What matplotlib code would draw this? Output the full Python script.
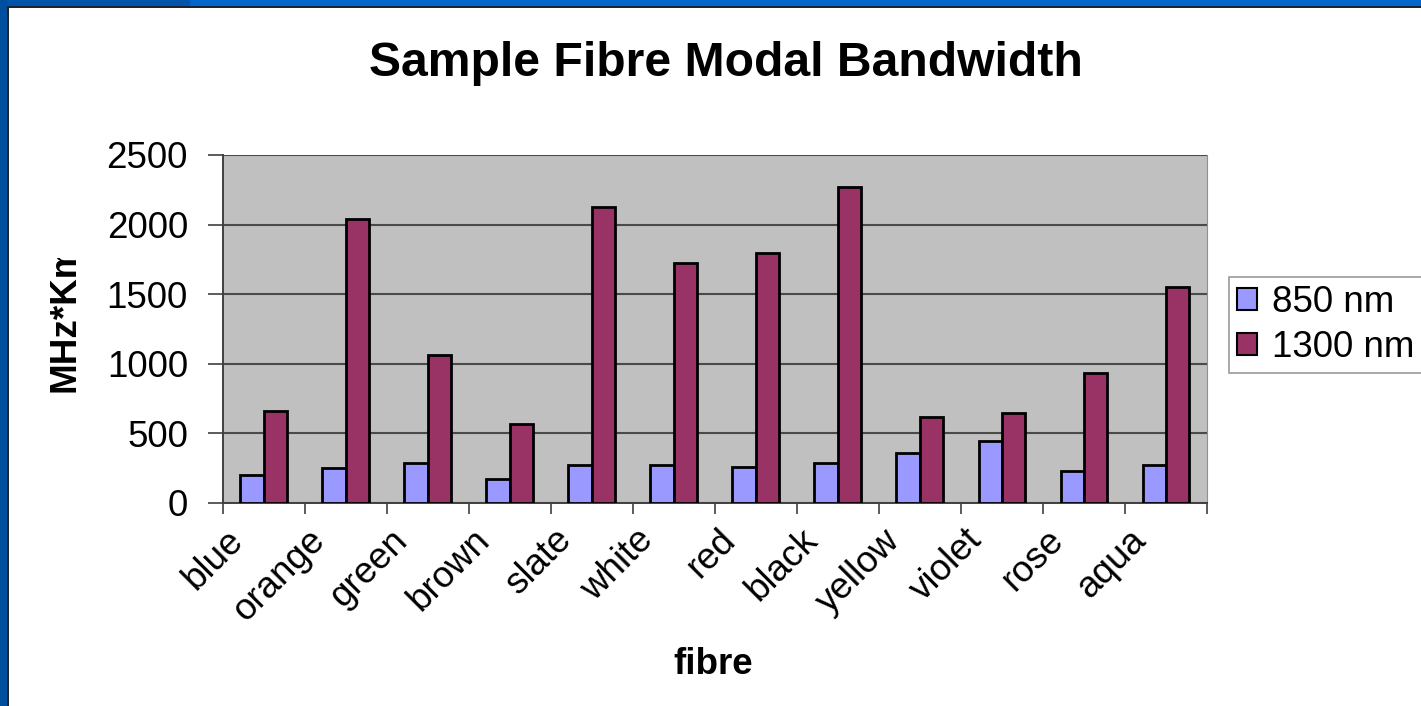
import numpy as np
import matplotlib
matplotlib.use("Agg")
import matplotlib.pyplot as plt
from matplotlib.patches import Rectangle, Patch
from matplotlib.transforms import Bbox, TransformedBbox, ScaledTranslation

fibres = ["blue", "orange", "green", "brown", "slate", "white",
          "red", "black", "yellow", "violet", "rose", "aqua"]
bw_850 = [200, 255, 290, 170, 275, 275, 260, 287, 360, 448, 232, 273]
bw_1300 = [660, 2040, 1065, 570, 2125, 1722, 1794, 2268, 620, 650, 933, 1554]
series_names = ["850 nm", "1300 nm"]
yticks = [0, 500, 1000, 1500, 2000, 2500]

plt.rcParams['font.family'] = ['Liberation Sans', 'DejaVu Sans']
fs = 26.5

W, H = 1421, 706
fig = plt.figure(figsize=(W / 100, H / 100), dpi=100)
fig.patch.set_facecolor("white")

# slide frame
fig.patches.append(Rectangle((0, 1 - 6 / H), 1, 6 / H, transform=fig.transFigure,
                             facecolor="#0066cc", edgecolor="none", zorder=0))
fig.patches.append(Rectangle((0, 1 - 6 / H), 190 / W, 6 / H, transform=fig.transFigure,
                             facecolor="#0055aa", edgecolor="none", zorder=0))
fig.patches.append(Rectangle((0, 0), 7 / W, 1, transform=fig.transFigure,
                             facecolor="#004e9e", edgecolor="none", zorder=0))
fig.patches.append(Rectangle((7 / W, 1 - 8 / H), 1, 2 / H, transform=fig.transFigure,
                             facecolor="#1c2430", edgecolor="none", zorder=0))
fig.patches.append(Rectangle((7 / W, 0), 1.5 / W, 1 - 6 / H, transform=fig.transFigure,
                             facecolor="#1c2430", edgecolor="none", zorder=0))

ax = fig.add_axes([222.7 / W, 1 - 503 / H, (1207 - 222.7) / W, (503 - 155) / H])
ax.set_facecolor("#c0c0c0")

x = np.arange(len(fibres))
w = 1 / 3.5
ax.bar(x - w / 2, bw_850, w, color="#9999ff", edgecolor="black", linewidth=2.0, zorder=3)
ax.bar(x + w / 2, bw_1300, w, color="#993366", edgecolor="black", linewidth=2.0, zorder=3)

ax.set_xlim(-0.5, len(fibres) - 0.5)
ax.set_ylim(0, 2500)
ax.set_yticks(yticks)
ax.set_yticklabels([str(v) for v in yticks], fontsize=fs)
ax.yaxis.grid(True, color="#4a4a4a", linewidth=1.5, zorder=1)
ax.set_axisbelow(True)
ax.tick_params(axis="y", length=11, width=1.2, color="#404040", pad=14)

ax.set_xticks(x)
ax.set_xticklabels(fibres, fontsize=fs, rotation=45, ha="right", va="center",
                   rotation_mode="anchor")
ax.tick_params(axis="x", which="major", length=0, pad=23)
ax.set_xticks(np.arange(len(fibres) + 1) - 0.5, minor=True)
ax.tick_params(axis="x", which="minor", length=8, width=1.2, color="#404040")
off = ScaledTranslation(-25.6 / 100, 0, fig.dpi_scale_trans)
for lab in ax.get_xticklabels():
    lab.set_transform(lab.get_transform() + off)

ax.spines["top"].set_visible(False)
ax.spines["right"].set_color("#909090")
ax.spines["left"].set_color("#404040")
ax.spines["bottom"].set_color("#404040")
ax.spines["left"].set_linewidth(1.4)
ax.spines["bottom"].set_linewidth(1.4)

fig.text(726 / W, 1 - 63 / H, "Sample Fibre Modal Bandwidth", fontsize=34.7,
         fontweight="bold", ha="center", va="center")
fig.text(713 / W, 1 - 664 / H, "fibre", fontsize=fs, fontweight="bold",
         ha="center", va="center")

yl = fig.text(65 / W, 1 - 392 / H, "MHz*Km", fontsize=fs, fontweight="bold",
              rotation=90, ha="center", va="bottom")
yl.set_clip_box(TransformedBbox(Bbox([[0, 0], [1, 1 - 258 / H]]), fig.transFigure))
yl.set_clip_on(True)

handles = [Patch(facecolor="#9999ff", edgecolor="black", linewidth=1.5),
           Patch(facecolor="#993366", edgecolor="black", linewidth=1.5)]
leg = fig.legend(handles, series_names, loc="upper left",
                 bbox_to_anchor=(1229 / W, 1 - 276.7 / H), fontsize=fs,
                 frameon=True, fancybox=False, handlelength=0.55, handleheight=0.55,
                 handletextpad=0.4, borderpad=0.22, labelspacing=0.28, borderaxespad=0)
leg.get_frame().set_edgecolor("#808080")
leg.get_frame().set_linewidth(1.2)

fig.savefig("out.png", dpi=100)
